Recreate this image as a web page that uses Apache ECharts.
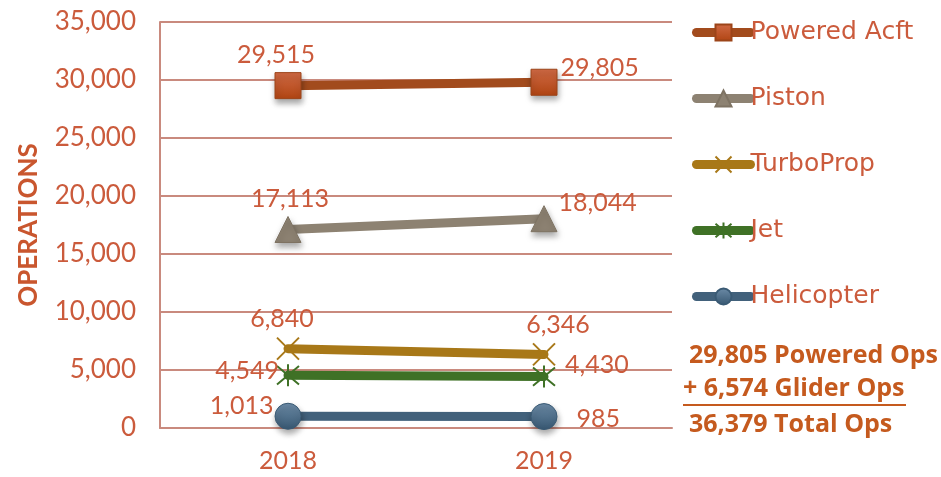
<!DOCTYPE html>
<html><head><meta charset="utf-8">
<script src="https://cdn.jsdelivr.net/npm/echarts@6/dist/echarts.min.js"></script>
<style>html,body{margin:0;padding:0;background:#fff}#c{width:941px;height:477px}</style>
</head><body><div id="c"></div>
<script>
const categories = ['2018', '2019'];
const poweredAcft = [29515, 29805];
const piston = [17113, 18044];
const turboProp = [6840, 6346];
const jet = [4549, 4430];
const helicopter = [1013, 985];
const yTicks = { min: 0, max: 35000, interval: 5000 };
const noteLines = ['29,805 Powered Ops', '+ 6,574 Glider Ops', '36,379 Total Ops'];

const FONT = 'Lato';
const TXT = '#CB5B3C';
const shadow = { shadowColor: 'rgba(0,0,0,0.35)', shadowBlur: 6, shadowOffsetX: 1, shadowOffsetY: 4 };

function withLabels(vals, labelCfgs) {
  return vals.map((v, i) => ({ value: v, label: labelCfgs[i] }));
}
const lab = (position, offset) => ({ show: true, position, offset, formatter: p => p.value.toLocaleString('en-US') });
const LBL = { color: TXT, fontSize: 25, fontFamily: FONT };

const X_PATH = 'path://M0,0L20,20M20,0L0,20';
const STAR_PATH = 'path://M0,0L20,20M20,0L0,20M10,-2L10,22';

const chart = echarts.init(document.getElementById('c'));
chart.setOption({
  animation: false,
  textStyle: { fontFamily: FONT },
  grid: { left: 160, right: 269, top: 22, bottom: 49, containLabel: false },
  xAxis: {
    type: 'category', data: categories, boundaryGap: true,
    axisLine: { show: true, lineStyle: { color: '#C98A7E', width: 2 } },
    axisTick: { show: false },
    axisLabel: { color: TXT, fontSize: 25, margin: 20, fontFamily: FONT }
  },
  yAxis: {
    type: 'value', min: yTicks.min, max: yTicks.max, interval: yTicks.interval,
    name: 'OPERATIONS', nameLocation: 'middle', nameRotate: 90, nameGap: 118,
    nameTextStyle: { color: '#C9562E', fontSize: 26, fontWeight: 'bold', fontFamily: FONT },
    axisLine: { show: true, lineStyle: { color: '#C98A7E', width: 2 } },
    axisTick: { show: false },
    splitLine: { lineStyle: { color: '#C98A7E', width: 2 } },
    axisLabel: { color: TXT, fontSize: 26, margin: 24, fontFamily: FONT, formatter: v => v.toLocaleString('en-US') }
  },
  legend: {
    orient: 'vertical', left: 687, top: 15, itemGap: 41, itemWidth: 54, itemHeight: 20,
    lineStyle: { width: 9, cap: 'round' },
    textStyle: { color: TXT, fontSize: 25, fontFamily: 'DejaVu Sans', padding: [0, 0, 0, -5] },
    data: ['Powered Acft', 'Piston', 'TurboProp', 'Jet', 'Helicopter']
  },
  series: [
    {
      name: 'Powered Acft', type: 'line', data: withLabels(poweredAcft, [lab('top', [-12, 0]), lab('right', [-2, -14])]),
      symbol: 'rect', symbolSize: 26,
      lineStyle: { color: '#A24B1D', width: 9, cap: 'round' },
      itemStyle: Object.assign({ color: new echarts.graphic.LinearGradient(0, 0, 0, 1, [{ offset: 0, color: '#D06A45' }, { offset: 1, color: '#B04412' }]), borderColor: '#9C4419', borderWidth: 1 }, shadow),
      label: LBL
    },
    {
      name: 'Piston', type: 'line', data: withLabels(piston, [lab('top', [2, 0]), lab('right', [-4, -16])]),
      symbol: 'triangle', symbolSize: 26,
      lineStyle: { color: '#8D8272', width: 9, cap: 'round' },
      itemStyle: Object.assign({ color: '#8D8272', borderColor: '#7E7363', borderWidth: 1 }, shadow),
      label: LBL
    },
    {
      name: 'TurboProp', type: 'line', data: withLabels(turboProp, [lab('top', [-6, 0]), lab('top', [14, 0])]),
      symbol: X_PATH, symbolSize: 22,
      lineStyle: { color: '#A87818', width: 9, cap: 'round' },
      itemStyle: { color: '#A87818', borderColor: '#A87818', borderWidth: 2 },
      label: LBL
    },
    {
      name: 'Jet', type: 'line', data: withLabels(jet, [lab('left', [8, -4]), lab('right', [4, -12])]),
      symbol: STAR_PATH, symbolSize: 22,
      lineStyle: { color: '#3F7126', width: 9, cap: 'round' },
      itemStyle: { color: '#3F7126', borderColor: '#3F7126', borderWidth: 2 },
      label: LBL
    },
    {
      name: 'Helicopter', type: 'line', data: withLabels(helicopter, [lab('left', [4, -10]), lab('right', [14, 2])]),
      symbol: 'circle', symbolSize: 26,
      lineStyle: { color: '#42617B', width: 9, cap: 'round' },
      itemStyle: Object.assign({ color: new echarts.graphic.LinearGradient(0, 0, 0, 1, [{ offset: 0, color: '#6D8CA8' }, { offset: 1, color: '#365670' }]), borderColor: '#3A5A74', borderWidth: 1 }, shadow),
      label: LBL
    }
  ],
  graphic: [
    { type: 'text', left: 689, top: 343, style: { text: noteLines[0], fill: '#C55A1E', font: 'bold 25px "Open Sans", sans-serif' } },
    { type: 'text', left: 683, top: 376, style: { text: noteLines[1], fill: '#C55A1E', font: 'bold 25px "Open Sans", sans-serif' } },
    { type: 'rect', shape: { x: 683, y: 404, width: 223, height: 2 }, style: { fill: '#C55A1E' } },
    { type: 'text', left: 689, top: 412, style: { text: noteLines[2], fill: '#C55A1E', font: 'bold 25px "Open Sans", sans-serif' } }
  ]
});
</script></body></html>
